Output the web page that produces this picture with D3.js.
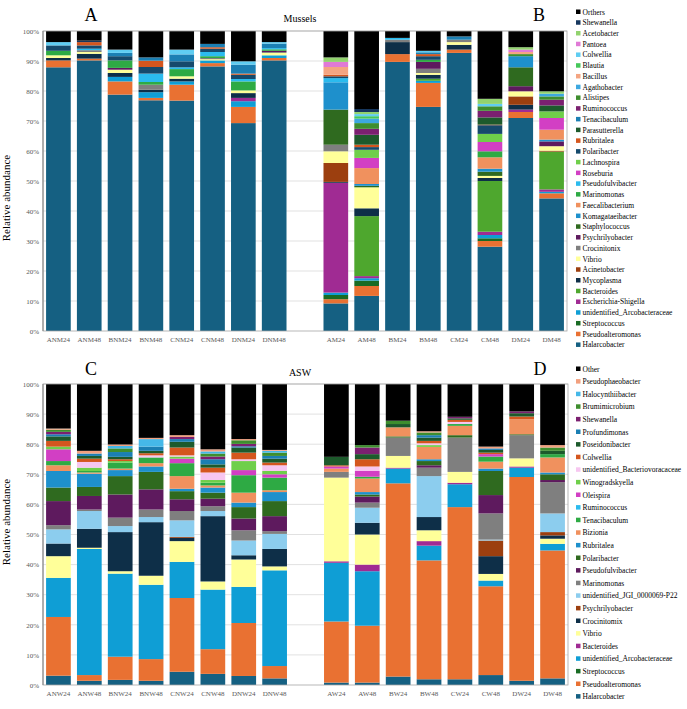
<!DOCTYPE html>
<html>
<head>
<meta charset="utf-8">
<script src="https://cdn.jsdelivr.net/npm/d3@7"></script>
<style>
  body { margin: 0; background: #fff; }
  svg { display: block; font-family: "Liberation Serif", "Times New Roman", serif; }
</style>
</head>
<body>
<div id="chart"></div>
<script>
// ---- Panel A/B : Mussels ----
var musselSamplesLeft = ['ANM24','ANM48','BNM24','BNM48','CNM24','CNM48','DNM24','DNM48'];
var musselSamplesRight = ['AM24','AM48','BM24','BM48','CM24','CM48','DM24','DM48'];

// legend order (top -> bottom); bars stack in the reverse order
var musselTaxa = ['Orthers','Shewanella','Acetobacter','Pantoea','Colwellia','Blautia','Bacillus','Agathobacter',
  'Alistipes','Ruminococcus','Tenacibaculum','Parasutterella','Rubritalea','Polaribacter','Lachnospira','Roseburia',
  'Pseudofulvibacter','Marinomonas','Faecalibacterium','Komagataeibacter','Staphylococcus','Psychrilyobacter',
  'Crocinitonix','Vibrio','Acinetobacter','Mycoplasma','Bacteroides','Escherichia-Shigella',
  'unidentified_Arcobacteraceae','Streptococcus','Pseudoalteromonas','Halarcobacter'];
var musselColors = ['#000000','#17375e','#92d36e','#e07ad6','#5fcdf2','#45c85a','#f4a582','#3da8e0',
  '#3e8e2e','#7b2070','#1b7fb3','#1d5a2c','#d4561e','#164a6c','#6fcf4a','#d23fc4',
  '#2bbbee','#2eaa44','#f0915e','#1e90cc','#2f6a1f','#5e1a5e',
  '#7f7f7f','#ffff99','#9c3f0f','#0e2f48','#4ea72e','#a02b93',
  '#0f9ed5','#196b24','#e97132','#156082'];

// relative abundance (%) per sample
var ANM24 = {Halarcobacter:87.9, Pseudoalteromonas:2.3, Mycoplasma:0.8, Vibrio:0.9, Marinomonas:1.5, Polaribacter:1.8, Colwellia:1.1, Orthers:3.7};
var ANM48 = {Halarcobacter:90.2, Pseudoalteromonas:0.6, Mycoplasma:1.6, Vibrio:0.6, Crocinitonix:0.6, Pseudofulvibacter:0.5, Polaribacter:1.1, Rubritalea:1.1, Shewanella:0.5, Orthers:3.2};
var BNM24 = {Halarcobacter:78.8, Pseudoalteromonas:4.4, 'unidentified_Arcobacteraceae':1.5, Mycoplasma:1.3, Vibrio:1.1, Psychrilyobacter:0.6, Marinomonas:2.5, Polaribacter:1.4, Tenacibaculum:1.1, Colwellia:1.1, Orthers:6.2};
var BNM48 = {Halarcobacter:76.9, Pseudoalteromonas:0.8, 'unidentified_Arcobacteraceae':1.9, Mycoplasma:0.8, Crocinitonix:1.7, Marinomonas:0.9, Pseudofulvibacter:2.8, Polaribacter:2.2, Rubritalea:2.1, Tenacibaculum:1.1, Orthers:8.8};
var CNM24 = {Halarcobacter:76.8, Pseudoalteromonas:5.3, 'unidentified_Arcobacteraceae':1.1, Mycoplasma:0.9, Vibrio:0.8, Marinomonas:2.4, Pseudofulvibacter:0.6, Polaribacter:2.0, Tenacibaculum:2.3, Colwellia:1.6, Orthers:6.2};
var CNM48 = {Halarcobacter:88.2, Pseudoalteromonas:1.1, 'unidentified_Arcobacteraceae':0.9, Vibrio:0.4, Crocinitonix:0.4, Marinomonas:0.6, Pseudofulvibacter:1.4, Polaribacter:1.1, Rubritalea:0.5, Tenacibaculum:1.1, Orthers:4.3};
var DNM24 = {Halarcobacter:69.3, Pseudoalteromonas:5.4, 'unidentified_Arcobacteraceae':1.9, 'Escherichia-Shigella':1.1, Mycoplasma:1.6, Vibrio:0.9, Marinomonas:3.0, Pseudofulvibacter:0.8, Polaribacter:1.4, Rubritalea:0.4, Tenacibaculum:3.0, Colwellia:1.1, Orthers:10.1};
var DNM48 = {Halarcobacter:90.2, Pseudoalteromonas:0.8, 'unidentified_Arcobacteraceae':0.9, Vibrio:0.8, Crocinitonix:0.3, Psychrilyobacter:0.4, Marinomonas:0.5, Pseudofulvibacter:0.4, Tenacibaculum:1.5, Colwellia:0.5, Orthers:3.7};
var AM24 = {Halarcobacter:9.2, Pseudoalteromonas:1.4, Streptococcus:1.4, 'unidentified_Arcobacteraceae':0.8, 'Escherichia-Shigella':36.6, Mycoplasma:0.3, Acinetobacter:6.3, Vibrio:3.9, Crocinitonix:2.2, Staphylococcus:11.7, Komagataeibacter:9.1, Pseudofulvibacter:1.4, Polaribacter:0.6, Rubritalea:0.5, Bacillus:2.6, Pantoea:1.7, Acetobacter:1.5, Orthers:8.8};
var AM48 = {Halarcobacter:11.7, Pseudoalteromonas:3.3, Streptococcus:1.8, 'unidentified_Arcobacteraceae':0.8, 'Escherichia-Shigella':0.7, Bacteroides:20.0, Mycoplasma:2.6, Vibrio:7.0, Staphylococcus:0.5, Komagataeibacter:0.6, Faecalibacterium:5.3, Roseburia:3.4, Lachnospira:2.7, Polaribacter:0.9, Rubritalea:0.8, Parasutterella:3.3, Ruminococcus:2.0, Alistipes:1.9, Agathobacter:1.5, Blautia:0.8, Colwellia:0.7, Acetobacter:0.7, Shewanella:1.0, Orthers:26.0};
var BM24 = {Halarcobacter:89.7, Pseudoalteromonas:2.6, Mycoplasma:4.0, Crocinitonix:0.8, Pseudofulvibacter:0.6, Orthers:2.3};
var BM48 = {Halarcobacter:74.7, Pseudoalteromonas:8.0, 'unidentified_Arcobacteraceae':0.7, Bacteroides:0.7, Mycoplasma:1.3, Vibrio:0.6, Crocinitonix:1.4, Psychrilyobacter:2.3, Marinomonas:0.7, Polaribacter:1.2, Rubritalea:0.7, Tenacibaculum:0.6, Colwellia:0.5, Orthers:6.6};
var CM24 = {Halarcobacter:92.7, Pseudoalteromonas:1.1, Mycoplasma:1.6, Vibrio:0.9, Crocinitonix:0.8, Tenacibaculum:1.1, Orthers:1.8};
var CM48 = {Halarcobacter:28.1, Pseudoalteromonas:1.9, Streptococcus:0.9, 'unidentified_Arcobacteraceae':1.1, 'Escherichia-Shigella':1.1, Bacteroides:16.9, Mycoplasma:1.0, Vibrio:0.7, Staphylococcus:1.4, Komagataeibacter:1.0, Faecalibacterium:3.8, Marinomonas:2.0, Roseburia:3.1, Lachnospira:2.7, Polaribacter:2.9, Rubritalea:0.2, Parasutterella:2.4, Ruminococcus:2.2, Alistipes:1.5, Colwellia:0.8, Acetobacter:1.7, Orthers:22.6};
var DM24 = {Halarcobacter:71.0, Pseudoalteromonas:2.0, 'Escherichia-Shigella':0.8, Mycoplasma:1.6, Acinetobacter:2.8, Vibrio:1.7, Psychrilyobacter:1.7, Staphylococcus:6.3, Komagataeibacter:3.7, Alistipes:0.7, Bacillus:0.7, Pantoea:0.8, Acetobacter:0.8, Orthers:5.4};
var DM48 = {Halarcobacter:44.2, Pseudoalteromonas:1.7, 'unidentified_Arcobacteraceae':0.5, 'Escherichia-Shigella':0.8, Bacteroides:12.6, Acinetobacter:0.3, Vibrio:1.5, Psychrilyobacter:1.6, Komagataeibacter:0.6, Faecalibacterium:3.3, Roseburia:3.9, Lachnospira:2.2, Parasutterella:2.0, Ruminococcus:1.9, Alistipes:1.1, Agathobacter:0.9, Acetobacter:0.8, Orthers:20.1};

// ---- Panel C/D : ASW ----
var aswSamplesLeft = ['ANW24','ANW48','BNW24','BNW48','CNW24','CNW48','DNW24','DNW48'];
var aswSamplesRight = ['AW24','AW48','BW24','BW48','CW24','CW48','DW24','DW48'];

var aswTaxa = ['Other','Pseudophaeobacter','Halocynthiibacter','Brumimicrobium','Shewanella','Profundimonas',
  'Poseidonibacter','Colwellia','unidentified_Bacteriovoracaceae','Winogradskyella','Oleispira','Ruminococcus',
  'Tenacibaculum','Bizionia','Rubritalea','Polaribacter','Pseudofulvibacter','Marinomonas',
  'unidentified_JGI_0000069-P22','Psychrilyobacter','Crocinitomix','Vibrio','Bacteroides',
  'unidentified_Arcobacteraceae','Streptococcus','Pseudoalteromonas','Halarcobacter'];
var aswColors = ['#000000','#f2a07e','#45b8e8','#3e8e2e','#7b2070','#1b7fb3',
  '#1d5a2c','#d4561e','#f7c6f0','#6fcf4a','#d23fc4','#2bbbee',
  '#2eaa44','#f0915e','#1e90cc','#2f6a1f','#5e1a5e','#7f7f7f',
  '#8ccdee','#9c3f0f','#0e2f48','#ffff99','#a02b93',
  '#0f9ed5','#196b24','#e97132','#156082'];

var ANW24 = {Halarcobacter:3.1, Pseudoalteromonas:19.5, 'unidentified_Arcobacteraceae':13.0, Vibrio:7.2, Crocinitomix:4.2, 'unidentified_JGI_0000069-P22':4.7, Marinomonas:1.4, Pseudofulvibacter:8.0, Polaribacter:4.5, Rubritalea:5.5, Bizionia:1.9, Tenacibaculum:1.4, Oleispira:3.9, Winogradskyella:0.9, Colwellia:1.9, Poseidonibacter:1.5, Profundimonas:0.7, Shewanella:0.8, Brumimicrobium:0.7, Pseudophaeobacter:0.4, Other:14.8};
var ANW48 = {Halarcobacter:1.4, Pseudoalteromonas:1.9, 'unidentified_Arcobacteraceae':41.9, Vibrio:0.4, Crocinitomix:6.3, 'unidentified_JGI_0000069-P22':5.9, Marinomonas:0.5, Pseudofulvibacter:4.5, Polaribacter:3.0, Rubritalea:4.4, Bizionia:0.4, Tenacibaculum:0.5, Winogradskyella:1.1, 'unidentified_Bacteriovoracaceae':1.9, Colwellia:1.1, Poseidonibacter:0.9, Profundimonas:0.8, Pseudophaeobacter:0.9, Other:22.2};
var BNW24 = {Halarcobacter:1.7, Pseudoalteromonas:7.7, 'unidentified_Arcobacteraceae':27.6, Vibrio:0.8, Crocinitomix:13.0, 'unidentified_JGI_0000069-P22':2.0, Marinomonas:2.8, Pseudofulvibacter:7.7, Polaribacter:6.1, Rubritalea:2.0, Bizionia:0.5, Tenacibaculum:2.0, Winogradskyella:0.5, Colwellia:0.6, Poseidonibacter:0.8, Profundimonas:1.6, Brumimicrobium:1.2, Halocynthiibacter:0.8, Pseudophaeobacter:0.5, Other:20.1};
var BNW48 = {Halarcobacter:1.4, Pseudoalteromonas:7.2, 'unidentified_Arcobacteraceae':24.7, Vibrio:3.0, Crocinitomix:17.8, 'unidentified_JGI_0000069-P22':1.7, Marinomonas:2.5, Pseudofulvibacter:6.7, Polaribacter:5.8, Rubritalea:1.8, Bizionia:1.1, Tenacibaculum:1.9, 'unidentified_Bacteriovoracaceae':0.7, Colwellia:0.7, Poseidonibacter:0.8, Profundimonas:1.4, Halocynthiibacter:2.5, Pseudophaeobacter:0.4, Other:17.9};
var CNW24 = {Halarcobacter:4.4, Pseudoalteromonas:24.5, 'unidentified_Arcobacteraceae':12.0, Vibrio:6.9, Crocinitomix:1.1, Psychrilyobacter:0.3, 'unidentified_JGI_0000069-P22':5.5, Marinomonas:3.1, Pseudofulvibacter:3.9, Polaribacter:2.7, Rubritalea:0.8, Bizionia:4.2, Tenacibaculum:4.3, Oleispira:1.5, Winogradskyella:0.7, 'unidentified_Bacteriovoracaceae':0.4, Colwellia:2.6, Poseidonibacter:1.9, Profundimonas:0.9, Shewanella:0.7, Pseudophaeobacter:0.6, Other:17.0};
var CNW48 = {Halarcobacter:3.7, Pseudoalteromonas:8.2, 'unidentified_Arcobacteraceae':19.8, Vibrio:2.7, Crocinitomix:21.7, 'unidentified_JGI_0000069-P22':1.7, Marinomonas:1.6, Pseudofulvibacter:2.5, Polaribacter:2.0, Rubritalea:1.7, Bizionia:0.7, Tenacibaculum:0.9, Winogradskyella:0.9, 'unidentified_Bacteriovoracaceae':2.5, Colwellia:1.6, Poseidonibacter:1.1, Profundimonas:1.7, Shewanella:0.9, Brumimicrobium:1.0, Halocynthiibacter:0.7, Pseudophaeobacter:0.7, Other:21.7};
var DNW24 = {Halarcobacter:3.0, Pseudoalteromonas:17.6, 'unidentified_Arcobacteraceae':12.0, Vibrio:9.1, Crocinitomix:1.4, 'unidentified_JGI_0000069-P22':4.9, Marinomonas:3.4, Pseudofulvibacter:3.9, Polaribacter:3.8, Rubritalea:1.5, Bizionia:3.3, Tenacibaculum:5.8, Oleispira:1.7, Winogradskyella:3.0, 'unidentified_Bacteriovoracaceae':0.6, Colwellia:2.2, Poseidonibacter:1.7, Profundimonas:0.4, Shewanella:0.8, Brumimicrobium:1.2, Pseudophaeobacter:0.4, Other:18.3};
var DNW48 = {Halarcobacter:2.2, Pseudoalteromonas:4.1, 'unidentified_Arcobacteraceae':31.8, Vibrio:1.3, Crocinitomix:5.8, 'unidentified_JGI_0000069-P22':5.0, Marinomonas:0.9, Pseudofulvibacter:5.0, Polaribacter:5.0, Rubritalea:3.0, Bizionia:0.6, Tenacibaculum:4.2, Oleispira:1.1, Winogradskyella:1.1, 'unidentified_Bacteriovoracaceae':1.9, Colwellia:0.9, Poseidonibacter:1.3, Profundimonas:0.9, Brumimicrobium:1.1, Halocynthiibacter:0.6, Pseudophaeobacter:0.3, Other:21.9};
var AW24 = {Halarcobacter:0.8, Pseudoalteromonas:20.3, 'unidentified_Arcobacteraceae':19.5, Bacteroides:0.5, Vibrio:27.8, Marinomonas:1.9, Bizionia:1.1, Oleispira:0.7, Colwellia:0.4, Poseidonibacter:2.8, Other:24.2};
var AW48 = {Halarcobacter:0.8, Pseudoalteromonas:18.9, 'unidentified_Arcobacteraceae':18.1, Bacteroides:2.2, Vibrio:10.0, Crocinitomix:3.9, 'unidentified_JGI_0000069-P22':5.0, Marinomonas:1.7, Pseudofulvibacter:2.0, Polaribacter:0.7, Rubritalea:0.8, Bizionia:4.5, Tenacibaculum:0.6, Oleispira:1.9, 'unidentified_Bacteriovoracaceae':1.5, Colwellia:2.4, Poseidonibacter:1.7, Shewanella:2.2, Brumimicrobium:0.8, Other:20.3};
var BW24 = {Halarcobacter:2.8, Pseudoalteromonas:64.2, 'unidentified_Arcobacteraceae':4.9, Bacteroides:0.3, Vibrio:3.9, Marinomonas:6.1, Polaribacter:0.4, Bizionia:3.0, Poseidonibacter:1.1, Brumimicrobium:1.1, Other:12.2};
var BW48 = {Halarcobacter:1.9, Pseudoalteromonas:39.5, 'unidentified_Arcobacteraceae':4.9, Bacteroides:1.5, Vibrio:3.6, Crocinitomix:4.4, 'unidentified_JGI_0000069-P22':13.6, Marinomonas:2.8, Pseudofulvibacter:0.8, Polaribacter:1.4, Rubritalea:0.6, Bizionia:4.1, Winogradskyella:0.6, 'unidentified_Bacteriovoracaceae':0.6, Colwellia:0.8, Poseidonibacter:1.1, Profundimonas:0.8, Brumimicrobium:0.9, Pseudophaeobacter:0.4, Other:15.7};
var CW24 = {Halarcobacter:1.9, Pseudoalteromonas:57.2, 'unidentified_Arcobacteraceae':7.6, Bacteroides:0.5, Vibrio:3.6, Marinomonas:11.4, Polaribacter:0.8, Bizionia:3.1, Tenacibaculum:0.6, 'unidentified_Bacteriovoracaceae':0.7, Colwellia:0.7, Poseidonibacter:0.5, Shewanella:0.5, Other:10.9};
var CW48 = {Halarcobacter:3.3, Pseudoalteromonas:29.5, 'unidentified_Arcobacteraceae':1.9, Vibrio:2.2, Crocinitomix:5.9, Psychrilyobacter:5.2, 'unidentified_JGI_0000069-P22':0.3, Marinomonas:8.7, Pseudofulvibacter:6.1, Polaribacter:8.0, Rubritalea:0.8, Bizionia:2.3, Tenacibaculum:1.7, Oleispira:0.8, Colwellia:0.5, Poseidonibacter:0.9, Profundimonas:0.5, Pseudophaeobacter:0.6, Other:20.8};
var DW24 = {Halarcobacter:1.4, Pseudoalteromonas:67.7, 'unidentified_Arcobacteraceae':3.1, Bacteroides:0.4, Vibrio:2.7, Marinomonas:7.7, Polaribacter:0.3, Bizionia:5.0, Colwellia:0.9, Poseidonibacter:1.1, Shewanella:0.6, Other:9.1};
var DW48 = {Halarcobacter:2.2, Pseudoalteromonas:42.5, 'unidentified_Arcobacteraceae':2.2, Vibrio:1.7, Crocinitomix:1.1, Psychrilyobacter:1.1, 'unidentified_JGI_0000069-P22':6.2, Marinomonas:10.4, Pseudofulvibacter:0.7, Polaribacter:1.9, Rubritalea:0.6, Bizionia:5.0, Tenacibaculum:1.1, Poseidonibacter:1.1, Brumimicrobium:1.1, Pseudophaeobacter:0.8, Other:20.3};

var yTicks = [0, 10, 20, 30, 40, 50, 60, 70, 80, 90, 100];

(function(){
  var W = 687, H = 709;
  var svg = d3.select('#chart').append('svg').attr('width', W).attr('height', H);

  function drawPanel(cfg){
    var slots = cfg.left.concat(['__gap__'], cfg.right);
    var samples = cfg.left.concat(cfg.right);
    var stackKeys = cfg.taxa.slice().reverse();
    var color = d3.scaleOrdinal().domain(cfg.taxa).range(cfg.colors);

    var x = d3.scaleBand().domain(slots).range([cfg.x0, cfg.x1]).paddingInner(0.2).paddingOuter(0.1);
    var y = d3.scaleLinear().domain([0, 100]).range([cfg.y0, cfg.y1]);

    var table = samples.map(function(s){
      var row = { sample: s };
      stackKeys.forEach(function(k){ row[k] = cfg.rows[s][k] || 0; });
      return row;
    });
    var series = d3.stack().keys(stackKeys)(table);

    var g = svg.append('g');

    // gridlines
    g.selectAll('.grid').data(yTicks.slice(1)).enter().append('line')
      .attr('x1', cfg.x0).attr('x2', cfg.x1)
      .attr('y1', function(d){ return y(d); }).attr('y2', function(d){ return y(d); })
      .attr('stroke', '#d9d9d9').attr('stroke-width', 0.8);

    // bars
    g.selectAll('.layer').data(series).enter().append('g')
      .attr('fill', function(d){ return color(d.key); })
      .selectAll('rect').data(function(d){ return d; }).enter().append('rect')
      .attr('x', function(d){ return x(d.data.sample); })
      .attr('width', x.bandwidth())
      .attr('y', function(d){ return y(d[1]); })
      .attr('height', function(d){ return Math.max(0, y(d[0]) - y(d[1])); });

    // frame
    g.append('rect').attr('x', cfg.x0).attr('y', cfg.y1).attr('width', cfg.x1 - cfg.x0).attr('height', cfg.y0 - cfg.y1)
      .attr('fill', 'none').attr('stroke', '#a6a6a6').attr('stroke-width', 0.8);
    g.append('line').attr('x1', cfg.x0).attr('x2', cfg.x0).attr('y1', cfg.y1).attr('y2', cfg.y0)
      .attr('stroke', '#808080').attr('stroke-width', 1);

    // y axis
    var ay = g.append('g').attr('transform', 'translate(' + cfg.x0 + ',0)')
      .call(d3.axisLeft(y).tickValues(yTicks).tickFormat(function(d){ return d + '%'; }).tickSize(0).tickPadding(4));
    ay.select('.domain').remove();
    ay.selectAll('text').attr('font-family', '"Liberation Serif", serif').style('font-size', '7px').attr('fill', '#595959');

    // x axis labels
    var ax = g.append('g').attr('transform', 'translate(0,' + cfg.y0 + ')')
      .call(d3.axisBottom(x).tickSize(0).tickPadding(6).tickFormat(function(d){ return d === '__gap__' ? '' : d; }));
    ax.select('.domain').remove();
    ax.selectAll('text').attr('font-family', '"Liberation Serif", serif').style('font-size', '7px').attr('fill', '#595959');

    // titles
    g.append('text').attr('x', cfg.x0 + 48).attr('y', cfg.titleY).attr('text-anchor', 'middle')
      .style('font-size', '18px').attr('fill', '#000').text(cfg.letterL);
    g.append('text').attr('x', cfg.x1 - 28).attr('y', cfg.titleY).attr('text-anchor', 'middle')
      .style('font-size', '18px').attr('fill', '#000').text(cfg.letterR);
    g.append('text').attr('x', 300).attr('y', cfg.titleY + 1).attr('text-anchor', 'middle')
      .style('font-size', '10px').attr('fill', '#000').text(cfg.title);

    // y axis title
    g.append('text').attr('transform', 'translate(10,' + cfg.labelY + ') rotate(-90)')
      .attr('text-anchor', 'middle').style('font-size', '11px').attr('fill', '#000')
      .text('Relative abundance');

    // legend
    var lg = g.append('g').attr('transform', 'translate(576,' + cfg.legendY + ')');
    var item = lg.selectAll('.item').data(cfg.taxa).enter().append('g')
      .attr('transform', function(d, i){ return 'translate(0,' + (i * cfg.legendStep) + ')'; });
    item.append('rect').attr('x', 0).attr('y', -2.5).attr('width', 4.5).attr('height', 4.5)
      .attr('fill', function(d){ return color(d); });
    item.append('text').attr('x', 6.5).attr('y', 2.5).style('font-size', '7.5px').attr('fill', '#000')
      .text(function(d){ return d; });
  }

  drawPanel({
    left: musselSamplesLeft, right: musselSamplesRight, taxa: musselTaxa, colors: musselColors,
    rows: {ANM24:ANM24, ANM48:ANM48, BNM24:BNM24, BNM48:BNM48, CNM24:CNM24, CNM48:CNM48, DNM24:DNM24, DNM48:DNM48,
           AM24:AM24, AM48:AM48, BM24:BM24, BM48:BM48, CM24:CM24, CM48:CM48, DM24:DM24, DM48:DM48},
    x0: 43, x1: 567, y0: 331, y1: 31,
    titleY: 21, labelY: 198, letterL: 'A', letterR: 'B', title: 'Mussels',
    legendY: 12, legendStep: 10.74
  });

  drawPanel({
    left: aswSamplesLeft, right: aswSamplesRight, taxa: aswTaxa, colors: aswColors,
    rows: {ANW24:ANW24, ANW48:ANW48, BNW24:BNW24, BNW48:BNW48, CNW24:CNW24, CNW48:CNW48, DNW24:DNW24, DNW48:DNW48,
           AW24:AW24, AW48:AW48, BW24:BW24, BW48:BW48, CW24:CW24, CW48:CW48, DW24:DW24, DW48:DW48},
    x0: 43, x1: 568, y0: 685, y1: 384,
    titleY: 375, labelY: 522, letterL: 'C', letterR: 'D', title: 'ASW',
    legendY: 369, legendStep: 12.6
  });
})();
</script>
</body>
</html>
